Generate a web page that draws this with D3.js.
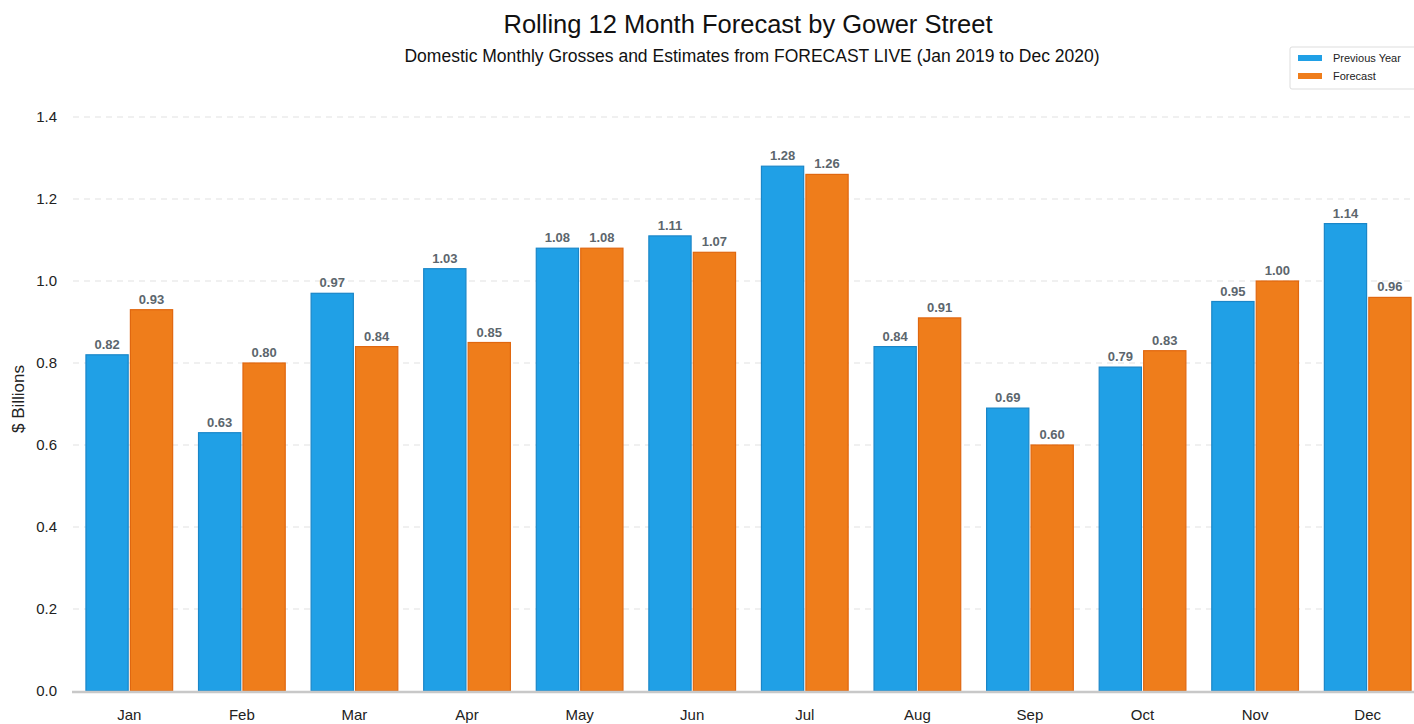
<!DOCTYPE html>
<html>
<head>
<meta charset="utf-8">
<script src="https://cdn.jsdelivr.net/npm/d3@7"></script>
<style>
  body { margin: 0; background: #fff; overflow: hidden; }
  text { font-family: "Liberation Sans", Arial, sans-serif; }
</style>
</head>
<body>
<div id="chart"></div>
<script>
let months = ['Jan', 'Feb', 'Mar', 'Apr', 'May', 'Jun', 'Jul', 'Aug', 'Sep', 'Oct', 'Nov', 'Dec'];
let seriesNames = ['Previous Year', 'Forecast'];
let previousYear = [0.82, 0.63, 0.97, 1.03, 1.08, 1.11, 1.28, 0.84, 0.69, 0.79, 0.95, 1.14];
let forecast = [0.93, 0.80, 0.84, 0.85, 1.08, 1.07, 1.26, 0.91, 0.60, 0.83, 1.00, 0.96];
let yTicks = [0, 0.2, 0.4, 0.6, 0.8, 1.0, 1.2, 1.4];

let width = 1414;
let height = 724;
let fills = ['#20a0e6', '#ef7d1b'];
let strokes = ['#1a86c8', '#e0670f'];

let svg = d3.select('#chart')
    .append('svg')
    .attr('width', width)
    .attr('height', height);

let plotLeft = 73, plotRight = 1424, plotTop = 117, plotBottom = 691;

let xScale = d3.scaleBand()
    .domain(months)
    .range([plotLeft, plotRight])
    .paddingInner(0.23)
    .paddingOuter(0.115);
let xInner = d3.scaleBand()
    .domain(seriesNames)
    .range([0, xScale.bandwidth()])
    .paddingInner(0.05);
let yScale = d3.scaleLinear()
    .domain([0, 1.4])
    .range([plotBottom, plotTop]);

// gridlines
svg.append('g')
    .selectAll('line')
    .data(yTicks.filter(d => d > 0))
    .enter()
    .append('line')
    .attr('x1', plotLeft)
    .attr('x2', width)
    .attr('y1', d => yScale(d))
    .attr('y2', d => yScale(d))
    .attr('stroke', '#ebebeb')
    .attr('stroke-width', 1.5)
    .attr('stroke-dasharray', '6,5');

// y axis
let yAxis = d3.axisLeft(yScale)
    .tickValues(yTicks)
    .tickFormat(d3.format('.1f'))
    .tickSize(0)
    .tickPadding(16);
let yAxisGroup = svg.append('g')
    .attr('transform', `translate(${plotLeft},0)`)
    .call(yAxis);
yAxisGroup.select('.domain').remove();
yAxisGroup.selectAll('text')
    .attr('font-size', 15)
    .attr('fill', '#222');

svg.append('text')
    .attr('transform', `translate(24,${(plotTop + plotBottom) / 2 - 5}) rotate(-90)`)
    .attr('text-anchor', 'middle')
    .attr('font-size', 17)
    .attr('fill', '#222')
    .text('$ Billions');

// bars
let data = months.map((m, i) => ({ month: m, values: [previousYear[i], forecast[i]] }));
let groups = svg.append('g')
    .selectAll('.group')
    .data(data)
    .enter()
    .append('g')
    .classed('group', true)
    .attr('transform', d => `translate(${xScale(d.month)},0)`);

groups.selectAll('rect')
    .data(d => d.values.map((v, j) => ({ key: seriesNames[j], value: v, j: j })))
    .enter()
    .append('rect')
    .attr('x', d => xInner(d.key))
    .attr('y', d => yScale(d.value))
    .attr('width', xInner.bandwidth())
    .attr('height', d => yScale(0) - yScale(d.value))
    .attr('fill', d => fills[d.j])
    .attr('stroke', d => strokes[d.j])
    .attr('stroke-width', 1.2);

groups.selectAll('.lbl')
    .data(d => d.values.map((v, j) => ({ key: seriesNames[j], value: v, j: j })))
    .enter()
    .append('text')
    .classed('lbl', true)
    .attr('x', d => xInner(d.key) + xInner.bandwidth() / 2)
    .attr('y', d => yScale(d.value) - 6)
    .attr('text-anchor', 'middle')
    .attr('font-size', 13)
    .attr('font-weight', 'bold')
    .attr('fill', '#5c666d')
    .text(d => d3.format('.2f')(d.value));

// x axis
let xAxis = d3.axisBottom(xScale).tickSize(0).tickPadding(18);
let xAxisGroup = svg.append('g')
    .attr('transform', `translate(0,${plotBottom})`)
    .call(xAxis);
xAxisGroup.select('.domain').remove();
xAxisGroup.selectAll('text')
    .attr('font-size', 15)
    .attr('fill', '#222');
svg.append('line')
    .attr('x1', plotLeft - 1)
    .attr('x2', width)
    .attr('y1', plotBottom + 1)
    .attr('y2', plotBottom + 1)
    .attr('stroke', '#c8c8c8')
    .attr('stroke-width', 2.5);

// titles
svg.append('text')
    .attr('x', 748)
    .attr('y', 33)
    .attr('text-anchor', 'middle')
    .attr('font-size', 25.5)
    .attr('fill', '#111')
    .text('Rolling 12 Month Forecast by Gower Street');
svg.append('text')
    .attr('x', 752)
    .attr('y', 62)
    .attr('text-anchor', 'middle')
    .attr('font-size', 17.5)
    .attr('fill', '#111')
    .text('Domestic Monthly Grosses and Estimates from FORECAST LIVE (Jan 2019 to Dec 2020)');

// legend
let legend = svg.append('g').attr('transform', 'translate(1290,47)');
legend.append('rect')
    .attr('width', 130)
    .attr('height', 42)
    .attr('fill', '#fff')
    .attr('stroke', '#ddd')
    .attr('rx', 2);
let legendItems = legend.selectAll('.item')
    .data(seriesNames)
    .enter()
    .append('g')
    .classed('item', true)
    .attr('transform', (d, i) => `translate(0,${11 + i * 18})`);
legendItems.append('rect')
    .attr('x', 8)
    .attr('y', -3)
    .attr('width', 24)
    .attr('height', 6)
    .attr('fill', (d, i) => fills[i]);
legendItems.append('text')
    .attr('x', 43)
    .attr('y', 4)
    .attr('font-size', 11)
    .attr('fill', '#222')
    .text(d => d);
</script>
</body>
</html>
